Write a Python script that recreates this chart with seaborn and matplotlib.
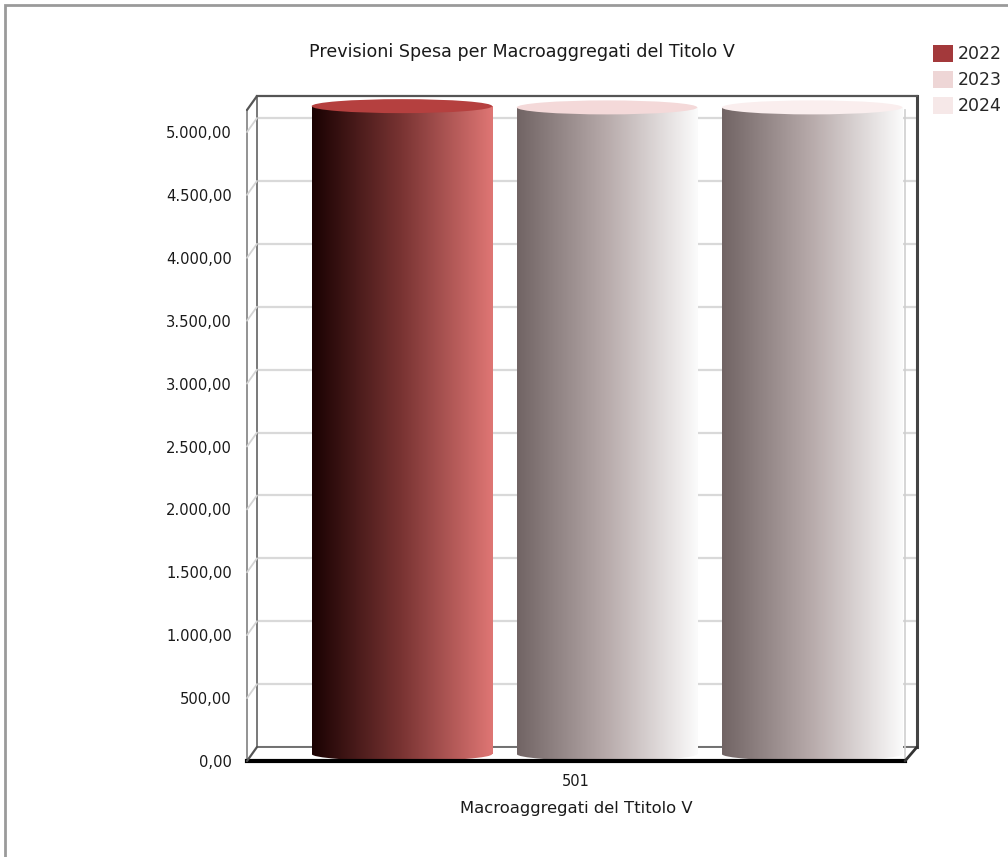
import numpy as np
import pandas as pd
import matplotlib
matplotlib.use("Agg")
import matplotlib.pyplot as plt
import seaborn as sns
from matplotlib.colors import LinearSegmentedColormap
from matplotlib.patches import Patch, Ellipse, Rectangle, ConnectionPatch
from matplotlib.ticker import FuncFormatter, MultipleLocator

# -- data ---------------------------------------------------------------
categories = ["501"]
years = ["2022", "2023", "2024"]
values = [5150, 5140, 5140]

legend_colors = ["#a3393b", "#eed6d6", "#f6e8e8"]
top_colors = ["#b5403f", "#f4d9d9", "#faeeee"]
body_stops = [
    ["#1a0202", "#7a3433", "#df7674"],
    ["#716464", "#b8abab", "#fbfbfb"],
    ["#716464", "#b8abab", "#fbfbfb"],
]

y_max = 5175
y_step = 500

sns.set_style("white")
plt.rcParams["font.family"] = ["DejaVu Sans"]

W, H = 1008, 857
fig = plt.figure(figsize=(W / 100, H / 100), dpi=100)


def px_rect(left, top, right, bottom):
    return [left / W, 1 - bottom / H, (right - left) / W, (bottom - top) / H]


# planes of the pseudo-3D box (pixel layout)
ax_back = fig.add_axes(px_rect(257, 96, 917, 747))
ax_mid = fig.add_axes(px_rect(252, 103, 910, 761))   # extra 7px below zero
ax = fig.add_axes(px_rect(247, 110, 905, 761))
units_per_px = y_max / (754 - 103)
for a in (ax_back, ax):
    a.set_ylim(0, y_max)
for a in (ax_back, ax, ax_mid):
    a.patch.set_alpha(0)

# back wall with gridlines
ax_back.set_xlim(0, 1)
ax_back.yaxis.set_major_locator(MultipleLocator(y_step))
ax_back.grid(axis="y", color="#d9d9d9", linewidth=1.6)
ax_back.set_xticks([])
ax_back.tick_params(axis="y", length=0, labelleft=False)
for side, col, lw in [("left", "#6e6e6e", 1.3), ("top", "#555555", 1.6),
                      ("right", "#444444", 2.2), ("bottom", "#666666", 1.3)]:
    ax_back.spines[side].set_color(col)
    ax_back.spines[side].set_linewidth(lw)
    ax_back.spines[side].set_visible(True)

# front plane: axis labels + floor edge
ax.set_xlim(-0.5, 0.5)
ax.set_xticks([0])
ax.set_xticklabels(categories)
ax.yaxis.set_major_locator(MultipleLocator(y_step))
ax.yaxis.set_major_formatter(FuncFormatter(
    lambda v, p: f"{v:,.2f}".replace(",", "X").replace(".", ",").replace("X", ".")))
ax.tick_params(axis="y", length=0, pad=11, labelsize=10.6, labelcolor="#1a1a1a")
ax.tick_params(axis="x", length=5, width=1, color="#999999", pad=4,
               labelsize=10.5, labelcolor="#1a1a1a")
ax.set_xlabel("Macroaggregati del Ttitolo V", fontsize=11.8, color="#1a1a1a",
              labelpad=9)
ax.spines["top"].set_visible(False)
ax.spines["left"].set_color("#8a8a8a")
ax.spines["left"].set_linewidth(1.3)
ax.spines["right"].set_color("#cfcfcf")
ax.spines["right"].set_linewidth(1.2)
ax.spines["bottom"].set_color("black")
ax.spines["bottom"].set_linewidth(3)

# connectors between front plane and back wall
for v in np.arange(y_step, y_max, y_step):
    fig.add_artist(ConnectionPatch(
        xyA=(0, v), coordsA=ax.get_yaxis_transform(),
        xyB=(0, v), coordsB=ax_back.get_yaxis_transform(),
        color="#d4d4d4", linewidth=1.3))
for xa, ya, col, lw in [(0, 1, "#555555", 1.6), (0, 0, "#555555", 1.6),
                        (1, 0, "#333333", 2.0)]:
    fig.add_artist(ConnectionPatch(
        xyA=(xa, ya), coordsA=ax.transAxes,
        xyB=(xa, ya), coordsB=ax_back.transAxes,
        color=col, linewidth=lw))

# bars (cylinders) on the middle plane
df = pd.DataFrame({"cat": categories * len(years), "anno": years, "valore": values})
sns.barplot(data=df, x="cat", y="valore", hue="anno", ax=ax_mid,
            palette=legend_colors, width=0.8, gap=0.12, legend=False)
ax_mid.axis("off")

ell_px = 14
ell_h = ell_px * units_per_px
grad = np.linspace(0, 1, 256).reshape(1, -1)

for i, bar in enumerate(ax_mid.patches[:len(years)]):
    x0, w, h = bar.get_x(), bar.get_width(), bar.get_height()
    cmap = LinearSegmentedColormap.from_list(f"c{i}", body_stops[i])
    bar.set_facecolor("none")
    bar.set_edgecolor("none")
    # body
    im = ax_mid.imshow(grad, cmap=cmap, aspect="auto",
                       extent=[x0, x0 + w, 0, h], zorder=2)
    im.set_clip_path(bar)
    # bottom rounded edge
    bottom = Ellipse((x0 + w / 2, 0), w, ell_h, facecolor="none", edgecolor="none")
    ax_mid.add_patch(bottom)
    im2 = ax_mid.imshow(grad, cmap=cmap, aspect="auto",
                        extent=[x0, x0 + w, -ell_h, ell_h], zorder=2)
    im2.set_clip_path(bottom)
    # top cap
    ax_mid.add_patch(Ellipse((x0 + w / 2, h), w, ell_h, facecolor=top_colors[i],
                             edgecolor="none", zorder=3, clip_on=False))
ax_mid.set_xlim(-0.4616, 0.394)
ax_mid.set_ylim(-7 * units_per_px, y_max)

# title and legend
fig.text(522 / W, 1 - 52 / H, "Previsioni Spesa per Macroaggregati del Titolo V",
         ha="center", va="center", fontsize=12.6, color="#1a1a1a")
handles = [Patch(facecolor=c, edgecolor="none") for c in legend_colors]
fig.legend(handles, years, loc="upper left", bbox_to_anchor=(933 / W, 1 - 45 / H),
           frameon=False, fontsize=12.5, handlelength=1.15, handleheight=1.15,
           handletextpad=0.3, labelspacing=0.42, borderpad=0, borderaxespad=0)

# outer frame
fig.add_artist(Rectangle((5 / W, -0.1), 1.2, 1.1 - 5 / H, transform=fig.transFigure,
                         fill=False, edgecolor="#9a9a9a", linewidth=2))

fig.savefig("out.png", dpi=100)
